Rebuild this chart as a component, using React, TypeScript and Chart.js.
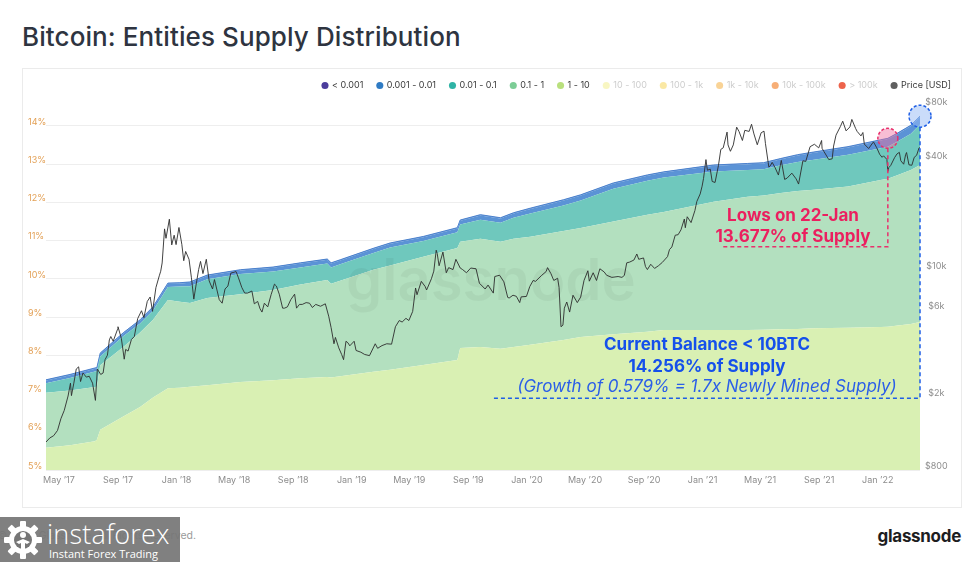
import React, { useEffect, useRef } from 'react';
import { Chart, registerables } from 'chart.js';

Chart.register(...registerables);

// ---------- DATA ----------
const START_DATE = '2017-04-04';
const END_DATE = '2022-03-30';

const bandDates = ['2017-04-04','2017-05-24','2017-07-15','2017-07-19','2017-07-26','2017-09-12','2017-10-17','2017-11-13','2017-12-14','2018-01-08','2018-01-29','2018-03-06','2018-05-14','2018-07-21','2018-09-16','2018-11-11','2018-11-19','2018-12-08','2019-02-15','2019-03-22','2019-05-30','2019-08-09','2019-08-15','2019-09-26','2019-11-07','2019-12-04','2020-01-08','2020-03-17','2020-04-22','2020-06-29','2020-09-08','2020-10-12','2021-01-24','2021-04-05','2021-05-08','2021-06-13','2021-07-18','2021-08-21','2021-10-31','2022-01-07','2022-01-22','2022-02-12','2022-03-11','2022-03-30'];

// share of supply (%) held by entities in each balance band
const band1to10 = [5.58,5.65,5.75,5.79,6.05,6.40,6.65,6.90,7.14,7.15,7.18,7.22,7.30,7.35,7.40,7.43,7.42,7.45,7.57,7.62,7.75,7.88,8.19,8.22,8.17,8.22,8.28,8.40,8.48,8.55,8.62,8.66,8.66,8.66,8.67,8.68,8.69,8.71,8.72,8.74,8.75,8.78,8.82,8.87];
const band01to1 = [1.44,1.43,1.42,1.39,1.69,1.82,1.95,2.03,2.31,2.25,2.19,2.28,2.30,2.36,2.45,2.54,2.45,2.50,2.67,2.73,2.83,2.93,2.78,2.83,2.80,2.83,2.82,2.85,2.85,2.95,3.06,3.09,3.36,3.49,3.51,3.57,3.61,3.62,3.70,3.85,3.87,3.94,4.03,4.11];
const band001to01 = [0.25,0.33,0.41,0.41,0.23,0.28,0.23,0.24,0.34,0.40,0.44,0.49,0.53,0.48,0.45,0.43,0.43,0.43,0.44,0.47,0.41,0.41,0.45,0.50,0.50,0.55,0.61,0.67,0.72,0.86,0.89,0.90,0.79,0.70,0.69,0.72,0.76,0.79,0.83,0.83,0.837,0.88,0.95,1.056];
const band0001to001 = [0.07,0.07,0.07,0.07,0.07,0.07,0.08,0.08,0.08,0.08,0.09,0.09,0.09,0.10,0.10,0.10,0.10,0.10,0.10,0.10,0.10,0.10,0.10,0.11,0.11,0.11,0.12,0.13,0.13,0.13,0.13,0.13,0.15,0.15,0.15,0.16,0.17,0.18,0.19,0.20,0.20,0.20,0.20,0.20];
const bandLt0001 = [0.02,0.02,0.02,0.02,0.02,0.02,0.02,0.02,0.02,0.02,0.02,0.02,0.02,0.02,0.02,0.02,0.02,0.02,0.02,0.02,0.02,0.02,0.02,0.02,0.02,0.02,0.02,0.02,0.02,0.02,0.02,0.02,0.02,0.02,0.02,0.02,0.02,0.02,0.02,0.02,0.02,0.02,0.02,0.02];

const priceDates = [
'2017-04-04','2017-04-12','2017-04-20','2017-04-28','2017-05-05','2017-05-12','2017-05-20','2017-05-25','2017-05-27','2017-06-01','2017-06-06','2017-06-11','2017-06-15','2017-06-20','2017-06-27','2017-07-03','2017-07-10','2017-07-16','2017-07-20','2017-07-27','2017-08-01','2017-08-05','2017-08-10','2017-08-14','2017-08-17','2017-08-22','2017-08-31','2017-09-01','2017-09-08','2017-09-14','2017-09-17','2017-09-22','2017-09-29','2017-10-05','2017-10-12','2017-10-20','2017-10-25','2017-11-01','2017-11-07','2017-11-12','2017-11-19','2017-11-26','2017-11-29','2017-12-02','2017-12-07','2017-12-10','2017-12-17','2017-12-22','2017-12-27','2017-12-31',
'2018-01-06','2018-01-12','2018-01-16','2018-01-20','2018-01-27','2018-02-01','2018-02-06','2018-02-10','2018-02-16','2018-02-20','2018-02-25','2018-03-04','2018-03-10','2018-03-17','2018-03-21','2018-03-31','2018-04-06','2018-04-12','2018-04-18','2018-04-24','2018-05-05','2018-05-10','2018-05-17','2018-05-23','2018-05-29','2018-06-07','2018-06-12','2018-06-19','2018-06-24','2018-06-28','2018-07-03','2018-07-10','2018-07-17','2018-07-24','2018-07-28','2018-08-03','2018-08-10','2018-08-14','2018-08-20','2018-08-27','2018-09-04','2018-09-08','2018-09-14','2018-09-20','2018-09-28','2018-10-05','2018-10-11','2018-10-18','2018-10-28','2018-11-07','2018-11-14','2018-11-19','2018-11-25','2018-11-28','2018-12-05','2018-12-11','2018-12-15','2018-12-20','2018-12-24','2018-12-28',
'2019-01-06','2019-01-10','2019-01-20','2019-01-28','2019-02-07','2019-02-19','2019-02-24','2019-03-05','2019-03-15','2019-03-25','2019-04-02','2019-04-10','2019-04-16','2019-04-24','2019-04-30','2019-05-08','2019-05-14','2019-05-17','2019-05-26','2019-06-03','2019-06-06','2019-06-16','2019-06-21','2019-06-26','2019-06-28','2019-07-02','2019-07-10','2019-07-17','2019-07-22','2019-07-31','2019-08-06','2019-08-15','2019-08-20','2019-08-28','2019-09-06','2019-09-17','2019-09-24','2019-10-06','2019-10-12','2019-10-23','2019-10-26','2019-11-05','2019-11-14','2019-11-22','2019-11-25','2019-12-03','2019-12-10','2019-12-17','2019-12-20','2019-12-31',
'2020-01-07','2020-01-14','2020-01-19','2020-01-31','2020-02-10','2020-02-13','2020-02-20','2020-02-26','2020-03-05','2020-03-08','2020-03-12','2020-03-16','2020-03-19','2020-03-24','2020-03-30','2020-04-06','2020-04-15','2020-04-22','2020-04-29','2020-05-07','2020-05-10','2020-05-18','2020-05-25','2020-06-01','2020-06-10','2020-06-15','2020-06-26','2020-07-09','2020-07-17','2020-07-22','2020-07-27','2020-08-02','2020-08-11','2020-08-17','2020-08-21','2020-08-31','2020-09-04','2020-09-08','2020-09-15','2020-09-23','2020-10-01','2020-10-09','2020-10-20','2020-10-24','2020-10-29','2020-11-05','2020-11-11','2020-11-17','2020-11-24','2020-11-26','2020-11-30','2020-12-08','2020-12-16','2020-12-20','2020-12-27','2020-12-31',
'2021-01-03','2021-01-08','2021-01-11','2021-01-17','2021-01-21','2021-01-27','2021-02-03','2021-02-08','2021-02-13','2021-02-21','2021-02-23','2021-02-28','2021-03-06','2021-03-13','2021-03-18','2021-03-25','2021-03-30','2021-04-08','2021-04-13','2021-04-18','2021-04-25','2021-05-03','2021-05-09','2021-05-12','2021-05-19','2021-05-22','2021-05-26','2021-06-01','2021-06-08','2021-06-14','2021-06-21','2021-06-26','2021-07-06','2021-07-15','2021-07-20','2021-07-29','2021-08-04','2021-08-13','2021-08-22','2021-08-31','2021-09-06','2021-09-07','2021-09-21','2021-09-28','2021-10-01','2021-10-06','2021-10-15','2021-10-20','2021-10-27','2021-11-04','2021-11-08','2021-11-16','2021-11-19','2021-11-27','2021-12-01','2021-12-04','2021-12-13','2021-12-23','2021-12-30',
'2022-01-05','2022-01-10','2022-01-13','2022-01-20','2022-01-22','2022-01-24','2022-01-28','2022-02-05','2022-02-10','2022-02-15','2022-02-18','2022-02-24','2022-02-28','2022-03-02','2022-03-07','2022-03-13','2022-03-18','2022-03-23','2022-03-28','2022-03-30'
];
const priceValues = [
1140,1200,1235,1320,1530,1700,2040,2400,2050,2400,2870,2950,2450,2730,2590,2620,2400,1930,2870,2680,2730,3230,3420,4150,4330,4080,4740,4900,4230,3250,3680,3600,4170,4330,5430,6000,5500,6750,7140,5950,8040,9330,9890,10980,16900,15000,19100,13800,15600,13850,
17200,13900,11300,12700,11500,9100,6950,8100,10100,11200,9600,11500,8750,7900,8900,6900,6600,7900,8200,9650,9850,9100,8050,7500,7500,7700,6550,6750,6150,5900,6600,6300,7350,8400,8200,7400,6200,6200,6300,6900,7400,6200,6500,6500,6650,6600,6250,6500,6350,6550,5600,4850,3950,4280,3750,3450,3230,4080,4000,3850,
4080,3630,3550,3450,3400,3950,3730,3860,3950,3930,4900,5300,5200,5450,5300,5950,8000,7350,8700,8150,7800,8990,9900,12900,12400,10600,12600,9700,10350,10100,11500,10300,10100,9700,10300,10200,8500,7900,8300,7500,9250,9400,8650,7100,7050,7300,7200,6650,7150,7190,
8150,8800,8700,9350,9850,10350,9600,8800,9050,8050,4900,5000,6200,6700,5900,7300,6650,7130,8800,9950,8720,9700,8800,10200,9800,9400,9150,9250,9150,9380,11000,11100,11400,12300,11500,11700,10500,10100,10800,10250,10600,11050,11900,13000,13450,15600,15700,16700,19150,17150,19700,18300,21300,23900,26300,29000,
32000,40600,35500,36000,30800,30400,37600,46200,47100,57500,48900,45100,48900,61200,57900,51700,58800,58000,63500,56200,49000,57000,58200,49700,37000,37500,39200,36700,33400,40200,31600,32100,34200,31800,29800,40000,39700,47800,49300,47100,51700,46800,40600,41000,48200,55300,61600,66000,58400,61400,67500,60100,58000,54800,57200,49400,46700,50800,47100,
43400,41800,42600,40700,35000,36700,37700,41600,43600,44500,40000,38300,43200,44400,38000,37800,41800,42900,47100,47100
];

const pctTicks = [5, 6, 7, 8, 9, 10, 11, 12, 13, 14];
const priceTicks = [800, 2000, 6000, 10000, 40000, 80000];
const priceTickLabels = ['$800', '$2k', '$6k', '$10k', '$40k', '$80k'];
const xTickDates = ['2017-05-01','2017-09-01','2018-01-01','2018-05-01','2018-09-01','2019-01-01','2019-05-01','2019-09-01','2020-01-01','2020-05-01','2020-09-01','2021-01-01','2021-05-01','2021-09-01','2022-01-01'];
const xTickLabels = ['May ’17','Sep ’17','Jan ’18','May ’18','Sep ’18','Jan ’19','May ’19','Sep ’19','Jan ’20','May ’20','Sep ’20','Jan ’21','May ’21','Sep ’21','Jan ’22'];

const legendNames = ['< 0.001', '0.001 - 0.01', '0.01 - 0.1', '0.1 - 1', '1 - 10', '10 - 100', '100 - 1k', '1k - 10k', '10k - 100k', '> 100k', 'Price [USD]'];
const legendColors = ['#4b3d9c', '#2f7bc4', '#2fb3a5', '#7ccd96', '#b9e07d', 'rgba(240,236,120,0.45)', 'rgba(245,214,90,0.55)', 'rgba(245,182,80,0.6)', 'rgba(243,140,60,0.7)', 'rgba(234,72,44,0.85)', '#5f5f5f'];
const legendActive = [true, true, true, true, true, false, false, false, false, false, true];

// annotation anchors
const LOW_DATE = '2022-01-22';
const LOW_PCT = 13.677;
const LOW_GUIDE_PCT = 10.84;
const LOW_GUIDE_START = '2021-02-12';
const CUR_DATE = END_DATE;
const CUR_PCT = 14.256;
const CUR_GUIDE_PCT = 6.88;
const CUR_GUIDE_START = '2019-10-22';

// ---------- HELPERS ----------
const dayOf = (s: string) => Math.round((Date.parse(s) - Date.parse(START_DATE)) / 86400000);
const pts = (dates: string[], vals: number[]) => dates.map((d, i) => ({ x: dayOf(d), y: vals[i] }));

const annotationPlugin = {
  id: 'supplyAnnotations',
  afterDatasetsDraw(chart: any) {
    const { ctx } = chart;
    const xs = chart.scales.x;
    const ys = chart.scales.y;
    const draw = (date: string, pct: number, guidePct: number, guideStart: string, r: number, stroke: string, fill: string) => {
      const cx = xs.getPixelForValue(dayOf(date));
      const cy = ys.getPixelForValue(pct);
      const gy = ys.getPixelForValue(guidePct);
      const gx = xs.getPixelForValue(dayOf(guideStart));
      ctx.save();
      ctx.strokeStyle = stroke;
      ctx.lineWidth = 1.5;
      ctx.setLineDash([4, 3]);
      ctx.beginPath();
      ctx.moveTo(cx, cy + r);
      ctx.lineTo(cx, gy);
      ctx.lineTo(gx, gy);
      ctx.stroke();
      ctx.beginPath();
      ctx.arc(cx, cy, r, 0, Math.PI * 2);
      ctx.fillStyle = fill;
      ctx.fill();
      ctx.setLineDash([3, 2]);
      ctx.stroke();
      ctx.restore();
    };
    draw(LOW_DATE, LOW_PCT, LOW_GUIDE_PCT, LOW_GUIDE_START, 10, '#e8306c', 'rgba(240,110,160,0.45)');
    draw(CUR_DATE, CUR_PCT, CUR_GUIDE_PCT, CUR_GUIDE_START, 11, '#1f5fe6', 'rgba(150,185,245,0.5)');
  },
};

const FONT = 'Inter, "Noto Sans", sans-serif';
const LEGEND_PAD = 14;

export default function App() {
  const ref = useRef<HTMLCanvasElement>(null);

  useEffect(() => {
    document.body.style.margin = '0';
    Chart.defaults.font.family = FONT;
    const bandStyle = (label: string, data: number[], color: string, fill: any) => ({
      type: 'line' as const,
      label,
      data: pts(bandDates, data),
      yAxisID: 'y',
      backgroundColor: color,
      borderColor: color,
      borderWidth: 0,
      pointRadius: 0,
      tension: 0,
      fill,
    });
    const chart = new Chart(ref.current!, {
      type: 'line',
      data: {
        datasets: [
          bandStyle('1 - 10', band1to10, '#d9f0b3', 'origin'),
          bandStyle('0.1 - 1', band01to1, '#b3e0bf', '-1'),
          bandStyle('0.01 - 0.1', band001to01, '#6fc8bd', '-1'),
          bandStyle('0.001 - 0.01', band0001to001, '#5b93d6', '-1'),
          { ...bandStyle('< 0.001', bandLt0001, '#4a80cc', '-1'), borderWidth: 1 },
          {
            type: 'line',
            label: 'Price [USD]',
            data: pts(priceDates, priceValues),
            yAxisID: 'y1',
            borderColor: 'rgba(45,45,45,0.9)',
            borderWidth: 1,
            pointRadius: 0,
            tension: 0,
            fill: false,
            order: -1,
          },
        ] as any,
      },
      options: {
        responsive: false,
        animation: false,
        events: [],
        layout: { padding: { left: 5, right: 0, top: 0, bottom: 12 } },
        plugins: {
          tooltip: { enabled: false },
          legend: {
            position: 'top',
            align: 'end',
            onClick: () => {},
            labels: {
              usePointStyle: true,
              pointStyle: 'circle',
              boxWidth: 5,
              boxHeight: 5,
              padding: LEGEND_PAD,
              color: '#3a3a3a',
              font: { size: 9, family: FONT },
              generateLabels: () =>
                legendNames.map((name, i) => ({
                  text: name,
                  fillStyle: legendColors[i],
                  strokeStyle: legendColors[i],
                  lineWidth: 0,
                  pointStyle: 'circle',
                  hidden: false,
                  fontColor: legendActive[i] ? '#3a3a3a' : '#cdcdcd',
                  datasetIndex: i,
                })) as any,
            },
          },
        },
        scales: {
          x: {
            type: 'linear',
            min: 0,
            max: dayOf(END_DATE),
            grid: { display: false, drawTicks: false },
            border: { display: false },
            afterBuildTicks: (s: any) => {
              s.ticks = xTickDates.map((d) => ({ value: dayOf(d) }));
            },
            afterFit: (s: any) => {
              s.height = 24;
            },
            ticks: {
              autoSkip: false,
              maxRotation: 0,
              padding: 5,
              color: '#8d8d8d',
              font: { size: 9, family: FONT },
              callback: (_v: any, i: number) => xTickLabels[i],
            },
          },
          y: {
            type: 'linear',
            position: 'left',
            stacked: true,
            min: 5,
            max: 14.68,
            grid: { color: '#eeeeee', drawTicks: false },
            border: { display: false },
            afterBuildTicks: (s: any) => {
              s.ticks = pctTicks.map((v) => ({ value: v }));
            },
            afterFit: (s: any) => {
              s.width = 18;
            },
            ticks: {
              crossAlign: 'far',
              labelOffset: -4,
              padding: 0,
              color: '#e3a157',
              font: { size: 9, family: FONT },
              callback: (v: any) => `${v}%`,
            },
          },
          y1: {
            type: 'logarithmic',
            position: 'right',
            min: 800,
            max: 86300,
            grid: { display: false, drawTicks: false },
            border: { display: false },
            afterBuildTicks: (s: any) => {
              s.ticks = priceTicks.map((v) => ({ value: v }));
            },
            afterFit: (s: any) => {
              s.width = 45;
            },
            ticks: {
              crossAlign: 'center',
              labelOffset: -4,
              padding: 5,
              color: '#8d8d8d',
              font: { size: 9, family: FONT },
              callback: (_v: any, i: number) => priceTickLabels[i],
            },
          },
        } as any,
      },
      plugins: [annotationPlugin],
    } as any);
    return () => chart.destroy();
  }, []);

  const abs = (left: number, top: number, extra: any = {}) => ({ position: 'absolute' as const, left, top, whiteSpace: 'nowrap' as const, lineHeight: 1, ...extra });
  const centered = (cx: number, cy: number, extra: any = {}) => abs(cx, cy, { transform: 'translate(-50%, -50%)', ...extra });
  const canvasTop = 100 - (19 + LEGEND_PAD);
  const canvasH = 506 - canvasTop;

  return (
    <div style={{ position: 'absolute', left: 0, top: 0, width: 974, height: 562, background: '#ffffff', overflow: 'hidden', fontFamily: FONT }}>
      <div style={abs(22, 24, { fontSize: 26, fontWeight: 500, color: '#2e3440', letterSpacing: 0.1 })}>Bitcoin: Entities Supply Distribution</div>
      <div style={{ position: 'absolute', left: 22, top: 68, width: 940, height: 440, border: '1px solid #ebebeb', boxSizing: 'border-box' }} />
      <canvas ref={ref} width={942} height={canvasH} style={{ position: 'absolute', left: 23, top: canvasTop, width: 942, height: canvasH }} />
      <div style={abs(346, 250, { fontSize: 58, fontWeight: 600, color: 'rgba(0,0,0,0.045)' })}>glassnode</div>

      <div style={centered(793, 215, { fontSize: 17, fontWeight: 700, color: '#eb1f5f' })}>Lows on 22-Jan</div>
      <div style={centered(793, 236, { fontSize: 17, fontWeight: 700, color: '#eb1f5f' })}>13.677% of Supply</div>

      <div style={centered(707, 344, { fontSize: 17, fontWeight: 700, color: '#1550eb' })}>Current Balance &lt; 10BTC</div>
      <div style={centered(707, 366, { fontSize: 17, fontWeight: 700, color: '#1550eb' })}>14.256% of Supply</div>
      <div style={centered(707, 386, { fontSize: 17, fontWeight: 400, fontStyle: 'italic', color: '#2a5ee8' })}>(Growth of 0.579% = 1.7x Newly Mined Supply)</div>

      <div style={{ position: 'absolute', right: 974 - 196, top: 531, fontSize: 10.5, lineHeight: 1, color: '#9a9a9a', whiteSpace: 'nowrap' }}>© 2022 Glassnode. All Rights Reserved.</div>
      <div style={{ position: 'absolute', right: 13, top: 528, fontSize: 17, fontWeight: 700, lineHeight: 1, color: '#1d1d1f', letterSpacing: -0.3 }}>glassnode</div>

      <div style={{ position: 'absolute', left: 0, top: 517, width: 180, height: 45, background: 'rgba(118,118,118,0.93)' }}>
        <svg width="40" height="40" viewBox="0 0 40 40" style={{ position: 'absolute', left: 3, top: 3 }}>
          <g fill="#ffffff">
            {[0, 45, 90, 135, 180, 225, 270, 315].map((a) => (
              <rect key={a} x="17" y="1" width="6" height="7" rx="1" transform={`rotate(${a} 20 20)`} />
            ))}
            <circle cx="20" cy="20" r="14" />
          </g>
          <circle cx="20" cy="20" r="9" fill="rgb(118,118,118)" />
          <circle cx="20" cy="15" r="3" fill="#ffffff" />
          <path d="M13 22 L20 19 L27 22 L24 24 L22 23 L22 33 L18 33 L18 23 L16 24 Z" fill="#ffffff" />
        </svg>
        <div style={abs(47, 3, { fontSize: 27, fontWeight: 300, color: '#ffffff', fontFamily: '"Open Sans", sans-serif', letterSpacing: 0.2 })}>instaforex</div>
        <div style={abs(49, 31, { fontSize: 11, fontWeight: 400, color: '#ffffff', fontFamily: '"Open Sans", sans-serif' })}>Instant Forex Trading</div>
      </div>
    </div>
  );
}
